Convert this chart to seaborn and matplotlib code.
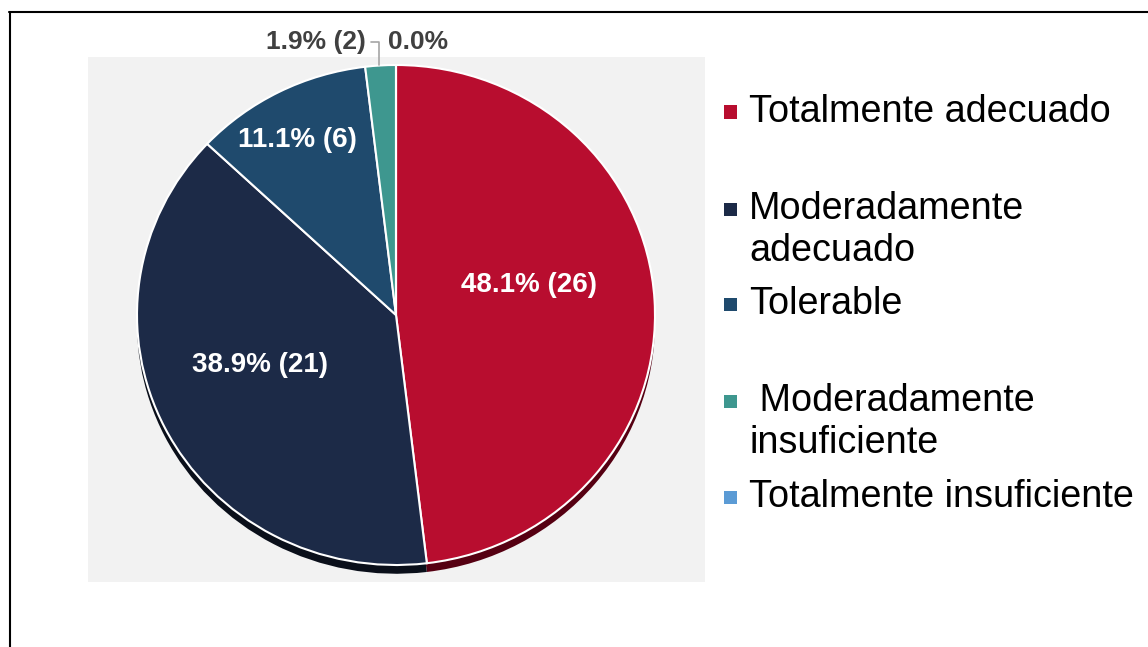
import matplotlib
matplotlib.use('Agg')
import matplotlib.pyplot as plt
import seaborn as sns
from matplotlib.lines import Line2D
from matplotlib.patches import Rectangle

# ===============================
# Data
# ===============================
categories = ['Totalmente adecuado', 'Moderadamente\nadecuado', 'Tolerable',
              ' Moderadamente\ninsuficiente', 'Totalmente insuficiente']
counts = [26, 21, 6, 2, 0]
percents = [48.1, 38.9, 11.1, 1.9, 0.0]
slice_colors = ['#B80D2F', '#1C2A47', '#1F4A6D', '#3E978F', '#5B9BD5']
shadow_colors = ['#560012', '#0A0F1A', '#0C2035', '#1A4541', '#2B4E6E']

# ===============================
# Style
# ===============================
sns.set_theme(style='white')
plt.rcParams['font.family'] = ['Liberation Sans', 'DejaVu Sans']
palette = sns.color_palette(slice_colors)
shadow_palette = sns.color_palette(shadow_colors)

W, H = 1148, 647
fig = plt.figure(figsize=(W / 100, H / 100), dpi=100)
fig.patch.set_facecolor('white')

# grey plot area (pixel box 88..705 x 57..582)
ax = fig.add_axes([88 / W, 1 - 582 / H, (705 - 88) / W, (582 - 57) / H])
ax.set_facecolor('#F2F2F2')

# shadow pie, shifted down
ax.pie(percents, colors=shadow_palette, startangle=90, counterclock=False,
       center=(0, -0.035), frame=True,
       wedgeprops=dict(edgecolor='none', linewidth=0))
# main pie (slice sizes follow the shown percentages)
wedges, _ = ax.pie(percents, colors=palette, startangle=90, counterclock=False,
                   frame=True,
                   wedgeprops=dict(edgecolor='white', linewidth=1.5))

# pie is slightly wider than tall in the reference
ax.set_aspect('auto')
ax.set_xlim((88 - 396) / 259, (705 - 396) / 259)
ax.set_ylim((315 - 582) / 250, (315 - 57) / 250)
ax.set_xticks([])
ax.set_yticks([])
for s in ax.spines.values():
    s.set_visible(False)

# ===============================
# Data labels
# ===============================
inside_pos = [(0.515, 0.12), (-0.525, -0.2), (-0.382, 0.7)]
for i, (x, y) in enumerate(inside_pos):
    ax.text(x, y, f'{percents[i]:.1f}% ({counts[i]})', color='white',
            fontsize=20, fontweight='bold', ha='center', va='center')

ax.annotate(f'{percents[3]:.1f}% ({counts[3]})', xy=(-0.066, 1.0),
            xytext=(-0.115, 1.092), ha='right', va='center',
            fontsize=19, fontweight='bold', color='#404040',
            annotation_clip=False,
            arrowprops=dict(arrowstyle='-', color='#A6A6A6', lw=1.2,
                            connectionstyle='angle,angleA=0,angleB=90,rad=0',
                            shrinkA=1, shrinkB=0))
ax.text(-0.03, 1.092, f'{percents[4]:.1f}%', ha='left', va='center',
        fontsize=19, fontweight='bold', color='#404040')

# ===============================
# Legend (manual, PowerPoint-like spacing)
# ===============================
legend_rows = [112, 209, 304, 401, 497]
line_gap = 42
for cat, col, yrow in zip(categories, palette, legend_rows):
    fig.add_artist(Rectangle((724 / W, 1 - (yrow + 6.5) / H), 13 / W, 13 / H,
                             transform=fig.transFigure, facecolor=col,
                             edgecolor='none'))
    for j, line in enumerate(cat.split('\n')):
        fig.text(749 / W, 1 - (yrow + j * line_gap) / H, line,
                 fontsize=27.2, color='black', ha='left', va='center')

# ===============================
# Outer frame (left and top edges)
# ===============================
fig.add_artist(Line2D([9.5 / W, 9.5 / W], [0, 1 - 12 / H],
                      transform=fig.transFigure, color='black', lw=1.5))
fig.add_artist(Line2D([9 / W, 1], [1 - 12 / H, 1 - 12 / H],
                      transform=fig.transFigure, color='black', lw=1.5))

fig.savefig('out.png', dpi=100)
